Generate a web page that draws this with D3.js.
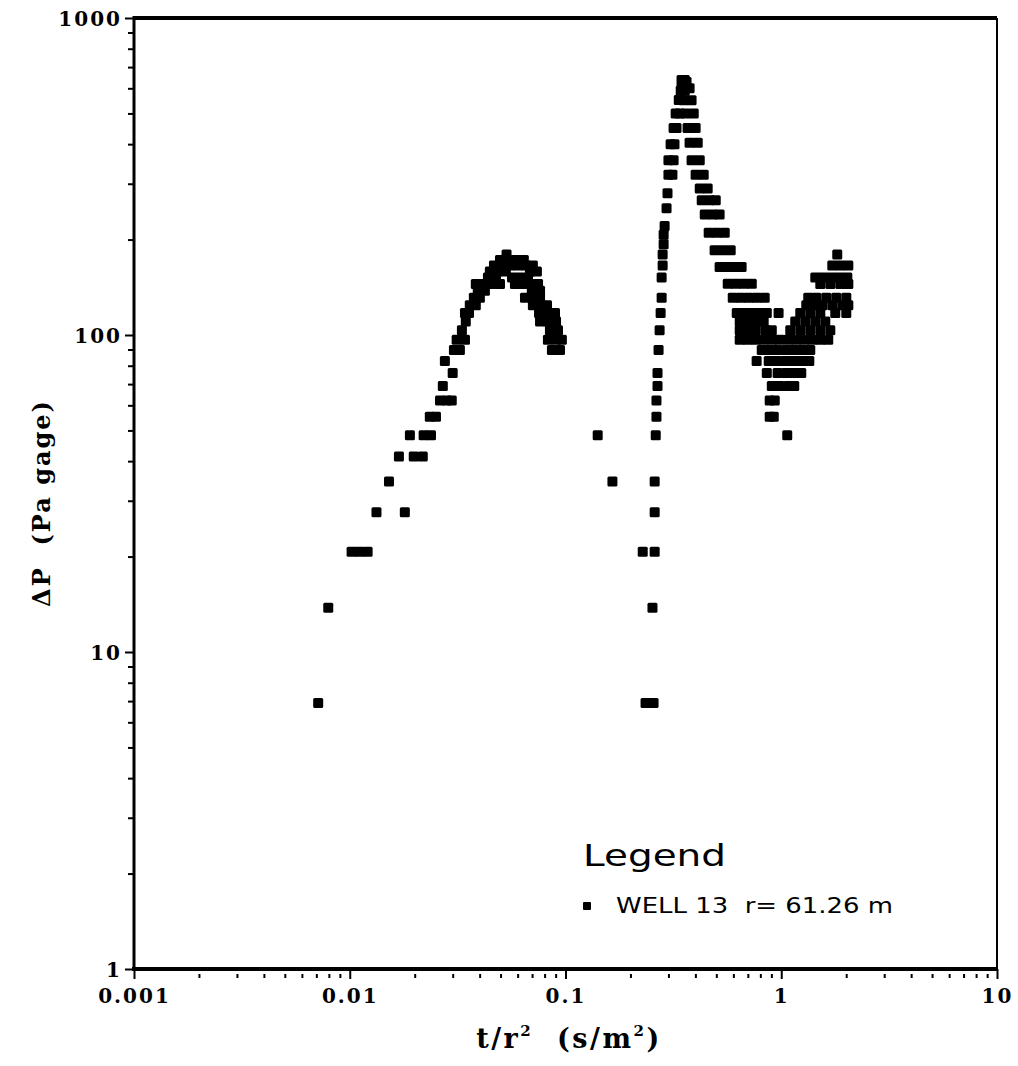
<!DOCTYPE html>
<html>
<head>
<meta charset="utf-8">
<script src="https://cdn.jsdelivr.net/npm/d3@7"></script>
<style>
  html, body { margin: 0; padding: 0; background: #fff; }
  svg { display: block; }
</style>
</head>
<body>
<svg id="chart" width="1018" height="1066"></svg>
<script>
// ---------- DATA (t/r^2 in s/m^2, ΔP in Pa gage) ----------
const xTickValues = [0.001, 0.01, 0.1, 1, 10];
const xTickLabels = ["0.001", "0.01", "0.1", "1", "10"];
const yTickValues = [1, 10, 100, 1000];
const yTickLabels = ["1", "10", "100", "1000"];
const seriesName = "WELL 13  r= 61.26 m";

// first pressure hump, rising limb
const earlyRise = [
  [0.00714, 6.9], [0.00795, 13.8], [0.0102, 20.7], [0.0111, 20.7], [0.0121, 20.7],
  [0.0133, 27.6], [0.0180, 27.6], [0.0152, 34.5], [0.0169, 41.4], [0.0198, 41.4],
  [0.0218, 41.4], [0.0190, 48.3], [0.0220, 48.3], [0.0238, 48.3], [0.0235, 55.2],
  [0.0251, 55.2], [0.0262, 62.1], [0.0282, 62.1], [0.0297, 62.1], [0.0270, 69.0],
  [0.0300, 75.9], [0.0276, 82.8], [0.0304, 89.7], [0.0324, 89.7], [0.0313, 96.6],
  [0.0342, 96.6], [0.0331, 103.5], [0.0345, 110.4], [0.0342, 117.3], [0.0357, 117.3],
  [0.0360, 124.2], [0.0384, 124.2], [0.0376, 131.1], [0.0401, 131.1], [0.0392, 138.0],
  [0.0423, 138.0]
];
// first hump, crest
const earlyPeak = [
  [0.0384, 144.9], [0.0419, 144.9], [0.0456, 144.9], [0.0497, 144.9], [0.0583, 144.9],
  [0.0628, 144.9], [0.0684, 144.9], [0.0746, 144.9],
  [0.0437, 151.8], [0.0476, 151.8], [0.0565, 151.8], [0.0615, 151.8], [0.0670, 151.8],
  [0.0446, 158.7], [0.0486, 158.7], [0.0529, 158.7], [0.0684, 158.7], [0.0737, 158.7],
  [0.0466, 165.6], [0.0507, 165.6], [0.0553, 165.6], [0.0602, 165.6], [0.0655, 165.6],
  [0.0706, 165.6],
  [0.0497, 172.5], [0.0539, 172.5], [0.0589, 172.5], [0.0641, 172.5],
  [0.0533, 179.4]
];
// first hump, falling limb
const earlyFall = [
  [0.0698, 138.0], [0.0762, 138.0],
  [0.0649, 131.1], [0.0706, 131.1], [0.0762, 131.1],
  [0.0706, 124.2], [0.0769, 124.2], [0.0821, 124.2],
  [0.0754, 117.3], [0.0821, 117.3], [0.0894, 117.3],
  [0.0762, 110.4], [0.0829, 110.4], [0.0904, 110.4],
  [0.0847, 103.5], [0.0923, 103.5],
  [0.0829, 96.6], [0.0904, 96.6], [0.0962, 96.6],
  [0.0865, 89.7], [0.0943, 89.7]
];
// isolated readings between humps
const gapPoints = [[0.141, 48.3], [0.165, 34.5]];
// second hump, steep rise
const mainRise = [
  [0.235, 6.9], [0.256, 6.9], [0.253, 13.8], [0.228, 20.7], [0.259, 20.7],
  [0.259, 27.6], [0.259, 34.5], [0.262, 48.3], [0.264, 55.2], [0.264, 62.1],
  [0.267, 69.0], [0.267, 75.9], [0.270, 89.7], [0.273, 103.5], [0.276, 117.3],
  [0.279, 131.1], [0.279, 151.8], [0.282, 165.6], [0.282, 179.4], [0.285, 193.2],
  [0.285, 207.0], [0.288, 220.8], [0.294, 251], [0.297, 280], [0.300, 320],
  [0.300, 356], [0.307, 400], [0.317, 450], [0.324, 500], [0.335, 551],
  [0.342, 590], [0.349, 628],
  [0.313, 320], [0.317, 356], [0.320, 400], [0.327, 450], [0.338, 500],
  [0.345, 551], [0.357, 590], [0.364, 628], [0.345, 637], [0.357, 637]
];
// second hump, falling limb
const mainFall = [
  [0.345, 600], [0.376, 600], [0.353, 550], [0.384, 550], [0.360, 500], [0.393, 500],
  [0.368, 450], [0.401, 450], [0.376, 404], [0.410, 404], [0.384, 356], [0.419, 356],
  [0.401, 320], [0.437, 320], [0.419, 290], [0.456, 290],
  [0.428, 266], [0.466, 266], [0.497, 266],
  [0.442, 240], [0.481, 240], [0.518, 240],
  [0.461, 210], [0.502, 210], [0.547, 210],
  [0.491, 185], [0.535, 185], [0.583, 185],
  [0.518, 164], [0.565, 164], [0.615, 164], [0.655, 164],
  [0.565, 145], [0.615, 145], [0.670, 145], [0.730, 145],
  [0.596, 131.1], [0.649, 131.1], [0.706, 131.1], [0.769, 131.1], [0.838, 131.1],
  [0.622, 117.3], [0.677, 117.3], [0.737, 117.3], [0.803, 117.3], [0.857, 117.3],
  [0.642, 110.4], [0.699, 110.4], [0.762, 110.4], [0.829, 110.4],
  [0.642, 103.5], [0.699, 103.5], [0.762, 103.5], [0.847, 103.5], [0.904, 103.5]
];
// trough after second hump
const valley = [
  [0.642, 96.6], [0.699, 96.6], [0.762, 96.6], [0.829, 96.6], [0.904, 96.6], [0.983, 96.6],
  [1.078, 96.6], [1.174, 96.6], [1.279, 96.6], [1.393, 96.6], [1.517, 96.6], [1.651, 96.6],
  [1.101, 103.5], [1.225, 103.5], [1.363, 103.5], [1.517, 103.5], [1.688, 103.5],
  [0.812, 89.7], [0.884, 89.7], [0.962, 89.7], [1.055, 89.7], [1.149, 89.7], [1.252, 89.7], [1.363, 89.7],
  [0.769, 82.8], [0.875, 82.8], [0.953, 82.8], [1.044, 82.8], [1.137, 82.8], [1.238, 82.8], [1.349, 82.8],
  [0.857, 75.9], [0.962, 75.9], [1.055, 75.9], [1.149, 75.9], [1.238, 75.9],
  [0.904, 69.0], [0.983, 69.0], [1.078, 69.0], [1.149, 69.0],
  [0.884, 62.1], [0.933, 62.1], [0.884, 55.2], [0.923, 55.2],
  [1.066, 48.3], [0.972, 117.3]
];
// late recovery rise
const lateRise = [
  [1.161, 110.4], [1.292, 110.4], [1.438, 110.4], [1.600, 110.4],
  [1.225, 117.3], [1.363, 117.3], [1.517, 117.3], [1.780, 117.3], [2.002, 117.3],
  [1.306, 124.2], [1.423, 124.2], [1.549, 124.2], [1.724, 124.2], [1.918, 124.2], [2.046, 124.2],
  [1.334, 131.1], [1.453, 131.1], [1.617, 131.1], [1.799, 131.1], [2.002, 131.1],
  [1.517, 144.9], [1.688, 144.9], [1.878, 144.9], [2.046, 144.9],
  [1.438, 151.8], [1.566, 151.8], [1.706, 151.8], [1.858, 151.8], [2.024, 151.8],
  [1.724, 165.6], [1.878, 165.6], [2.046, 165.6],
  [1.818, 179.4]
];

const allPoints = [].concat(earlyRise, earlyPeak, earlyFall, gapPoints, mainRise, mainFall, valley, lateRise);

// ---------- DRAWING ----------
(function () {
const svg = d3.select("#chart");
const mLeft = 134, mRight = 997, mTop = 18, mBottom = 969;

const x = d3.scaleLog().domain([0.001, 10]).range([mLeft, mRight]);
const y = d3.scaleLog().domain([1, 1000]).range([mBottom, mTop]);

const minorOf = (lo, hi) => {
  const out = [];
  for (let p = lo; p < hi; p *= 10) for (let m = 2; m <= 9; m++) out.push(p * m);
  return out;
};

const labelFont = "'DejaVu Serif', 'Liberation Serif', serif";

// frame (top & right)
svg.append("line").attr("x1", mLeft).attr("x2", mRight).attr("y1", mTop).attr("y2", mTop)
  .attr("stroke", "#000").attr("stroke-width", 4);
svg.append("line").attr("x1", mRight).attr("x2", mRight).attr("y1", mTop).attr("y2", mBottom)
  .attr("stroke", "#000").attr("stroke-width", 2);

// y axis
const yMinor = svg.append("g").attr("transform", `translate(${mLeft},0)`)
  .call(d3.axisLeft(y).tickValues(minorOf(1, 1000)).tickSize(6).tickFormat(""));
const yMajor = svg.append("g").attr("transform", `translate(${mLeft},0)`)
  .call(d3.axisLeft(y).tickValues(yTickValues).tickSize(9).tickPadding(3)
    .tickFormat((d, i) => yTickLabels[i]));

// x axis
const xMinor = svg.append("g").attr("transform", `translate(0,${mBottom})`)
  .call(d3.axisBottom(x).tickValues(minorOf(0.001, 10)).tickSize(5).tickFormat(""));
const xMajor = svg.append("g").attr("transform", `translate(0,${mBottom})`)
  .call(d3.axisBottom(x).tickValues(xTickValues).tickSize(10).tickPadding(10)
    .tickFormat((d, i) => xTickLabels[i]));

[yMinor, yMajor, xMinor, xMajor].forEach(g => {
  g.select(".domain").remove();
  g.selectAll(".tick line").attr("stroke", "#000").attr("stroke-width", 2);
});
xMinor.selectAll(".tick line").attr("y1", 5).attr("y2", 9);
yMajor.selectAll(".tick text")
  .attr("font-family", labelFont).attr("font-weight", "bold").attr("font-size", 20)
  .attr("letter-spacing", 2).attr("fill", "#000").attr("dy", "0.35em");
xMajor.selectAll(".tick text")
  .attr("font-family", labelFont).attr("font-weight", "bold").attr("font-size", 20)
  .attr("letter-spacing", 2).attr("fill", "#000");

// axis lines
svg.append("line").attr("x1", mLeft).attr("x2", mLeft).attr("y1", mTop - 2).attr("y2", mBottom + 2)
  .attr("stroke", "#000").attr("stroke-width", 3);
svg.append("line").attr("x1", mLeft - 2).attr("x2", mRight).attr("y1", mBottom).attr("y2", mBottom)
  .attr("stroke", "#000").attr("stroke-width", 4);

// data points
const sz = 10;
svg.append("g").selectAll("rect").data(allPoints).join("rect")
  .attr("x", d => x(d[0]) - sz / 2)
  .attr("y", d => y(d[1]) - sz / 2)
  .attr("width", sz).attr("height", sz)
  .attr("rx", 1.5)
  .attr("fill", "#000");

// axis titles
const xt = svg.append("text")
  .attr("x", 569).attr("y", 1048)
  .attr("text-anchor", "middle")
  .attr("font-family", labelFont).attr("font-weight", "bold").attr("font-size", 27)
  .attr("letter-spacing", 2.5).attr("fill", "#000");
xt.append("tspan").text("t/r");
xt.append("tspan").attr("dy", -12).attr("font-size", 15).text("2");
xt.append("tspan").attr("dy", 12).text("\u00a0\u00a0(s/m");
xt.append("tspan").attr("dy", -12).attr("font-size", 15).text("2");
xt.append("tspan").attr("dy", 12).text(")");

svg.append("text")
  .attr("transform", "translate(50,503) rotate(-90)")
  .attr("text-anchor", "middle")
  .attr("font-family", labelFont).attr("font-weight", "bold").attr("font-size", 24)
  .attr("letter-spacing", 2).attr("fill", "#000")
  .text("\u0394P\u00a0\u00a0(Pa gage)");

// legend
const legendFont = "'DejaVu Sans', 'Liberation Sans', sans-serif";
svg.append("text")
  .attr("x", 583).attr("y", 866)
  .attr("font-family", legendFont).attr("font-size", 30).attr("font-weight", "normal")
  .attr("textLength", 143).attr("lengthAdjust", "spacingAndGlyphs")
  .attr("fill", "#000").text("Legend");
svg.append("rect").attr("x", 583).attr("y", 902).attr("width", 8).attr("height", 8)
  .attr("rx", 1).attr("fill", "#000");
svg.append("text")
  .attr("x", 616).attr("y", 913)
  .attr("font-family", legendFont).attr("font-size", 21).attr("font-weight", "normal")
  .attr("textLength", 277).attr("lengthAdjust", "spacingAndGlyphs")
  .attr("fill", "#000").text(seriesName.replace(/  /g, "\u00a0\u00a0"));
})();
</script>
</body>
</html>
